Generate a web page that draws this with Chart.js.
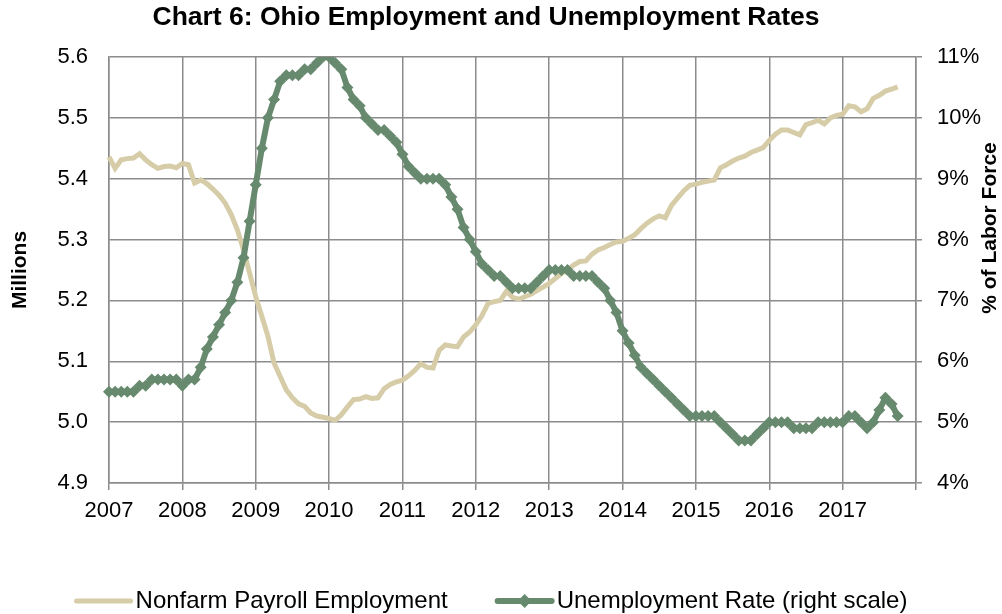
<!DOCTYPE html>
<html>
<head>
<meta charset="utf-8">
<title>Chart 6</title>
<script src="https://cdn.jsdelivr.net/npm/chart.js@4.4.0/dist/chart.umd.min.js"></script>
<style>
  body { margin: 0; background: #fff; }
  canvas { display: block; }
</style>
</head>
<body>
<canvas id="chart" width="1002" height="614"></canvas>
<script>
// years on the axis, monthly categories Jan 2007 .. Jan 2018
const years = [2007, 2008, 2009, 2010, 2011, 2012, 2013, 2014, 2015, 2016, 2017, 2018];
const months = [];
years.forEach(y => {
  for (let m = 1; m <= 12; m++) {
    if (y === 2018 && m > 1) break;
    months.push(y + '-' + String(m).padStart(2, '0'));
  }
});

// Nonfarm payroll employment, millions (Jan 2007 - Oct 2017)
const payroll = [
  5.436, 5.417, 5.431, 5.433, 5.434, 5.441, 5.431, 5.423, 5.417, 5.420, 5.421, 5.418,
  5.425, 5.423, 5.393, 5.398, 5.392, 5.383, 5.373, 5.360, 5.341, 5.316, 5.283, 5.245,
  5.206, 5.174, 5.141, 5.097, 5.075, 5.053, 5.040, 5.030, 5.026, 5.015, 5.010, 5.008,
  5.006, 5.003, 5.012, 5.025, 5.037, 5.038, 5.042, 5.039, 5.040, 5.055, 5.062, 5.066,
  5.069, 5.076, 5.085, 5.096, 5.090, 5.089, 5.118, 5.127, 5.125, 5.124, 5.140, 5.148,
  5.160, 5.175, 5.195, 5.198, 5.200, 5.215, 5.205, 5.202, 5.206, 5.210, 5.216, 5.222,
  5.228, 5.236, 5.244, 5.250, 5.258, 5.264, 5.265, 5.276, 5.283, 5.287, 5.292, 5.296,
  5.297, 5.302, 5.308, 5.318, 5.327, 5.334, 5.339, 5.336, 5.356, 5.368, 5.380, 5.389,
  5.391, 5.394, 5.396, 5.398, 5.418, 5.423, 5.429, 5.434, 5.437, 5.443, 5.447, 5.451,
  5.463, 5.473, 5.480, 5.480, 5.476, 5.472, 5.489, 5.492, 5.496, 5.490, 5.500, 5.504,
  5.506, 5.520, 5.518, 5.510, 5.515, 5.532, 5.537, 5.544, 5.547, 5.551
];

// Unemployment rate, % of labor force (right scale)
const unemployment = [
  5.5, 5.5, 5.5, 5.5, 5.5, 5.6, 5.6, 5.7, 5.7, 5.7, 5.7, 5.7,
  5.6, 5.7, 5.7, 5.9, 6.2, 6.4, 6.6, 6.8, 7.0, 7.3, 7.7, 8.3,
  8.9, 9.5, 10.0, 10.3, 10.6, 10.7, 10.7, 10.7, 10.8, 10.8, 10.9, 11.0,
  11.0, 10.9, 10.8, 10.5, 10.3, 10.2, 10.0, 9.9, 9.8, 9.8, 9.7, 9.6,
  9.4, 9.2, 9.1, 9.0, 9.0, 9.0, 9.0, 8.9, 8.7, 8.5, 8.2, 8.0,
  7.8, 7.6, 7.5, 7.4, 7.4, 7.3, 7.2, 7.2, 7.2, 7.2, 7.3, 7.4,
  7.5, 7.5, 7.5, 7.5, 7.4, 7.4, 7.4, 7.4, 7.3, 7.2, 7.0, 6.8,
  6.5, 6.3, 6.1, 5.9, 5.8, 5.7, 5.6, 5.5, 5.4, 5.3, 5.2, 5.1,
  5.1, 5.1, 5.1, 5.1, 5.0, 4.9, 4.8, 4.7, 4.7, 4.7, 4.8, 4.9,
  5.0, 5.0, 5.0, 5.0, 4.9, 4.9, 4.9, 4.9, 5.0, 5.0, 5.0, 5.0,
  5.0, 5.1, 5.1, 5.0, 4.9, 5.0, 5.2, 5.4, 5.3, 5.1
];

const leftTicks = [4.9, 5.6, 0.1];   // min, max, step (millions)
const rightTicks = [4, 11, 1];       // min, max, step (%)

const FONT = '"Liberation Sans", Arial, sans-serif';
const GRID = '#8c8c8c';

// chart title, a little left of the canvas centre like the original
const topTitle = {
  id: 'topTitle',
  afterDraw(chart) {
    const ctx = chart.ctx;
    ctx.save();
    ctx.font = 'bold 26.5px ' + FONT;
    ctx.fillStyle = '#000';
    ctx.textAlign = 'center';
    ctx.textBaseline = 'middle';
    ctx.fillText('Chart 6: Ohio Employment and Unemployment Rates', 486, 18);
    ctx.restore();
  }
};

// legend drawn under the chart, line samples like the original
const bottomLegend = {
  id: 'bottomLegend',
  afterDraw(chart) {
    const ctx = chart.ctx;
    ctx.save();
    ctx.font = '24px ' + FONT;
    const y = 601, sample = 58, gap = 3, between = 48;
    const items = chart.data.datasets.map(ds => ({ ds: ds, w: sample + gap + ctx.measureText(ds.label).width }));
    const total = items.reduce((s, it) => s + it.w, 0) + between * (items.length - 1);
    let x = 491 - total / 2;
    items.forEach(it => {
      ctx.strokeStyle = it.ds.borderColor;
      ctx.lineWidth = it.ds.borderWidth;
      ctx.lineCap = 'round';
      ctx.beginPath();
      ctx.moveTo(x + 2, y);
      ctx.lineTo(x + sample - 2, y);
      ctx.stroke();
      if (it.ds.pointStyle === 'rectRot') {
        const cx = x + sample / 2, r = 7;
        ctx.fillStyle = it.ds.borderColor;
        ctx.beginPath();
        ctx.moveTo(cx, y - r); ctx.lineTo(cx + r, y); ctx.lineTo(cx, y + r); ctx.lineTo(cx - r, y);
        ctx.closePath();
        ctx.fill();
      }
      ctx.fillStyle = '#000';
      ctx.textBaseline = 'middle';
      ctx.textAlign = 'left';
      ctx.fillText(it.ds.label, x + sample + gap, y);
      x += it.w + between;
    });
    ctx.restore();
  }
};

// right axis title reads bottom to top, as in the original
const rightTitle = {
  id: 'rightTitle',
  afterDraw(chart) {
    const ctx = chart.ctx;
    ctx.save();
    ctx.translate(990, 228);
    ctx.rotate(-Math.PI / 2);
    ctx.font = 'bold 21px ' + FONT;
    ctx.fillStyle = '#000';
    ctx.textAlign = 'center';
    ctx.textBaseline = 'middle';
    ctx.fillText('% of Labor Force', 0, 0);
    ctx.restore();
  }
};

new Chart(document.getElementById('chart'), {
  type: 'line',
  data: {
    labels: months,
    datasets: [
      {
        label: 'Nonfarm Payroll Employment',
        data: payroll,
        yAxisID: 'y',
        borderColor: '#d6cda8',
        backgroundColor: '#d6cda8',
        borderWidth: 5,
        pointRadius: 0,
        tension: 0,
        order: 1
      },
      {
        label: 'Unemployment Rate (right scale)',
        data: unemployment,
        yAxisID: 'y1',
        borderColor: '#678a6f',
        backgroundColor: '#678a6f',
        borderWidth: 6,
        pointStyle: 'rectRot',
        pointRadius: 6,
        pointBorderWidth: 0,
        pointBackgroundColor: '#678a6f',
        tension: 0,
        order: 0
      }
    ]
  },
  options: {
    responsive: false,
    animation: false,
    layout: { padding: { left: 0, right: 0, top: 57, bottom: 0 } },
    plugins: {
      legend: { display: false },
      tooltip: { enabled: false },
      title: { display: false }
    },
    scales: {
      x: {
        type: 'category',
        offset: false,
        afterFit: s => { s.height = 131; },
        border: { color: GRID, width: 1.5 },
        grid: {
          color: c => (c.index % 12 === 0 ? GRID : 'rgba(0,0,0,0)'),
          lineWidth: 1.5,
          tickLength: 7
        },
        ticks: {
          autoSkip: false,
          maxRotation: 0,
          padding: 8,
          color: '#000',
          font: { family: FONT, size: 22 },
          callback: function (v, i) {
            const lab = this.getLabelForValue(v);
            return (lab.endsWith('-01') && i < months.length - 1) ? lab.slice(0, 4) : '';
          }
        }
      },
      y: {
        position: 'left',
        min: leftTicks[0],
        max: leftTicks[1],
        afterFit: s => { s.width = 109; },
        border: { color: GRID, width: 1.5 },
        grid: { color: GRID, lineWidth: 1.5, drawTicks: false },
        title: {
          display: true,
          text: 'Millions',
          color: '#000',
          font: { family: FONT, size: 21, weight: 'bold' },
          padding: { top: 8, bottom: 0 }
        },
        ticks: {
          stepSize: leftTicks[2],
          padding: 21,
          color: '#000',
          font: { family: FONT, size: 22 },
          callback: v => Number(v).toFixed(1)
        }
      },
      y1: {
        position: 'right',
        min: rightTicks[0],
        max: rightTicks[1],
        afterFit: s => { s.width = 86; },
        border: { color: GRID, width: 1.5 },
        grid: { color: GRID, lineWidth: 1.5, drawOnChartArea: false, tickLength: 6 },
        ticks: {
          stepSize: rightTicks[2],
          padding: 15,
          color: '#000',
          font: { family: FONT, size: 22 },
          callback: v => v + '%'
        }
      }
    }
  },
  plugins: [topTitle, bottomLegend, rightTitle]
});
</script>
</body>
</html>
